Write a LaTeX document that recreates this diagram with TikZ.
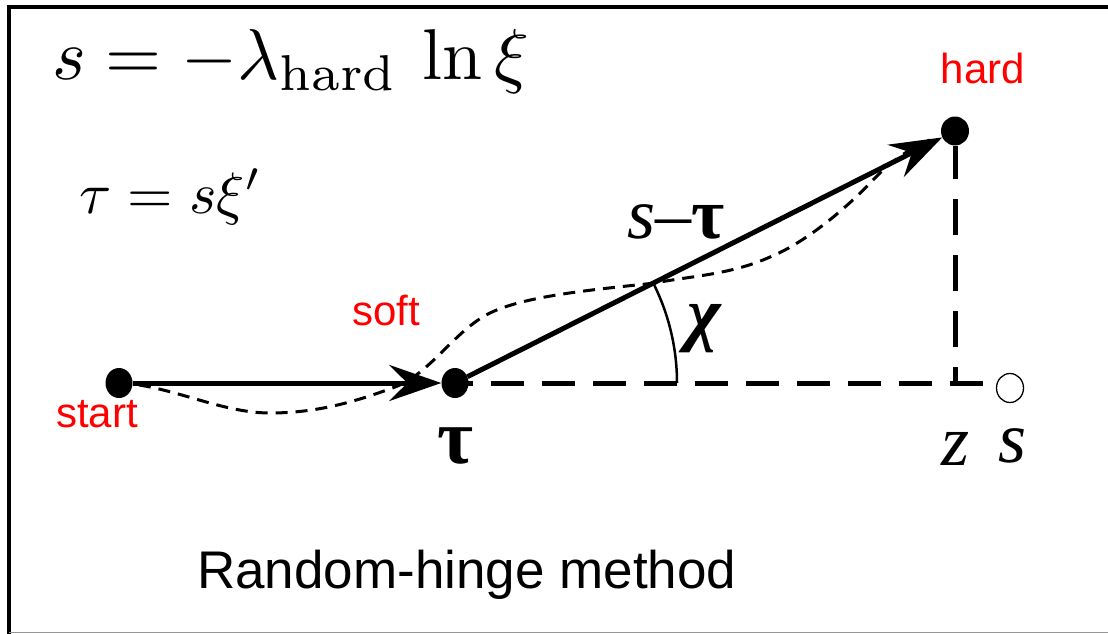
\documentclass[tikz,border=0pt]{standalone}
\usepackage{fontspec}
\usetikzlibrary{arrows.meta,shapes.geometric}
\newfontfamily\arialf{Liberation Sans}
\newfontfamily\timesf{Liberation Serif}
\definecolor{lblred}{RGB}{255,0,0}
\definecolor{framegray}{RGB}{150,150,150}
\begin{document}
\begin{tikzpicture}[x=1pt,y=-1pt,
  blackdot/.style={ellipse,fill=black,inner sep=0pt,minimum width=27pt,minimum height=30pt},
  hollow/.style={ellipse,draw=black,line width=1.3pt,fill=white,inner sep=0pt,minimum width=27pt,minimum height=29pt},
  bigarrow/.style={line width=5pt,-{Stealth[length=52pt,width=36pt,inset=18pt]}},
  guide/.style={line width=5pt,dash pattern=on 33pt off 18pt},
  wiggle/.style={line width=3pt,dash pattern=on 12pt off 8pt},
  redlbl/.style={text=lblred,font=\arialf\fontsize{42}{42}\selectfont,inner sep=0pt,anchor=base},
  tlbl/.style={font=\timesf\fontsize{72}{72}\selectfont,inner sep=0pt,anchor=base}
]
\useasboundingbox (0,0) rectangle (1108,634);
% frame
\draw[line width=4pt] (9,634) -- (9,7) -- (1108,7);
\draw[framegray,line width=1.5pt] (9,632.5) -- (1108,632.5);

% formulas
\node[anchor=base west,inner sep=0pt] (f1) at (52,80) {\scalebox{7.2}{$s=-\lambda_{\mathrm{hard}}\,\ln\xi$}};
\node[anchor=base west,inner sep=0pt] (f2) at (79,213) {\scalebox{5.85}{$\tau = s\xi'$}};

% points
\node[blackdot] (start) at (119,383) {};
\node[blackdot] (tau) at (455,383) {};
\node[blackdot,minimum width=28pt,minimum height=29pt] (hard) at (955,131) {};
\coordinate (corner) at (955,383);
\coordinate (hend) at (985,383);
\node[hollow] (send) at (1010,388) {};

% dashed guides
\draw[guide,dash phase=15pt] (tau.center) -- (hend);
\draw[line width=5pt,dash pattern=on 36pt off 20pt,dash phase=20pt] (corner) -- (hard);

% wiggly path
\draw[wiggle] (start.center) .. controls (170,385) and (220,413) .. (270,413)
  .. controls (320,413) and (360,400) .. (395,387)
  .. controls (430,374) and (455,330) .. (490,313)
  .. controls (525,296) and (590,290) .. (655,283)
  .. controls (690,276) and (730,275) .. (770,257)
  .. controls (800,245) and (840,215) .. (873,180)
  .. controls (890,162) and (910,148) .. (930,140);

% arrows
\draw[bigarrow] (start) -- (tau);
\draw[bigarrow] (tau) -- (hard);

% angle arc
\draw[line width=2.5pt] ([xshift=222pt]tau.center) arc[start angle=0,end angle=26.83,radius=222pt];

% labels
\node[redlbl] (starttxt) at (97,427) {start};
\node[redlbl] (softtxt) at (386,325) {soft};
\node[redlbl] (hardtxt) at (983,83) {hard};
\node[tlbl,font=\timesf\bfseries\fontsize{78}{78}\selectfont] (taulbl) at (455,463) {τ};
\node[tlbl,font=\timesf\bfseries\itshape\fontsize{72}{72}\selectfont] (chilbl) at (704,337) {χ};
\node[tlbl] (difflbl) at (676,238) {\itshape s\upshape–\bfseries τ};
\node[tlbl] (zlbl) at (955,465) {\itshape z};
\node[tlbl] (slbl) at (1012,462) {\itshape s};
\node[anchor=base west,inner sep=0pt,font=\arialf\fontsize{53}{53}\selectfont] (title) at (197,588) {Random-hinge method};
\end{tikzpicture}
\end{document}
